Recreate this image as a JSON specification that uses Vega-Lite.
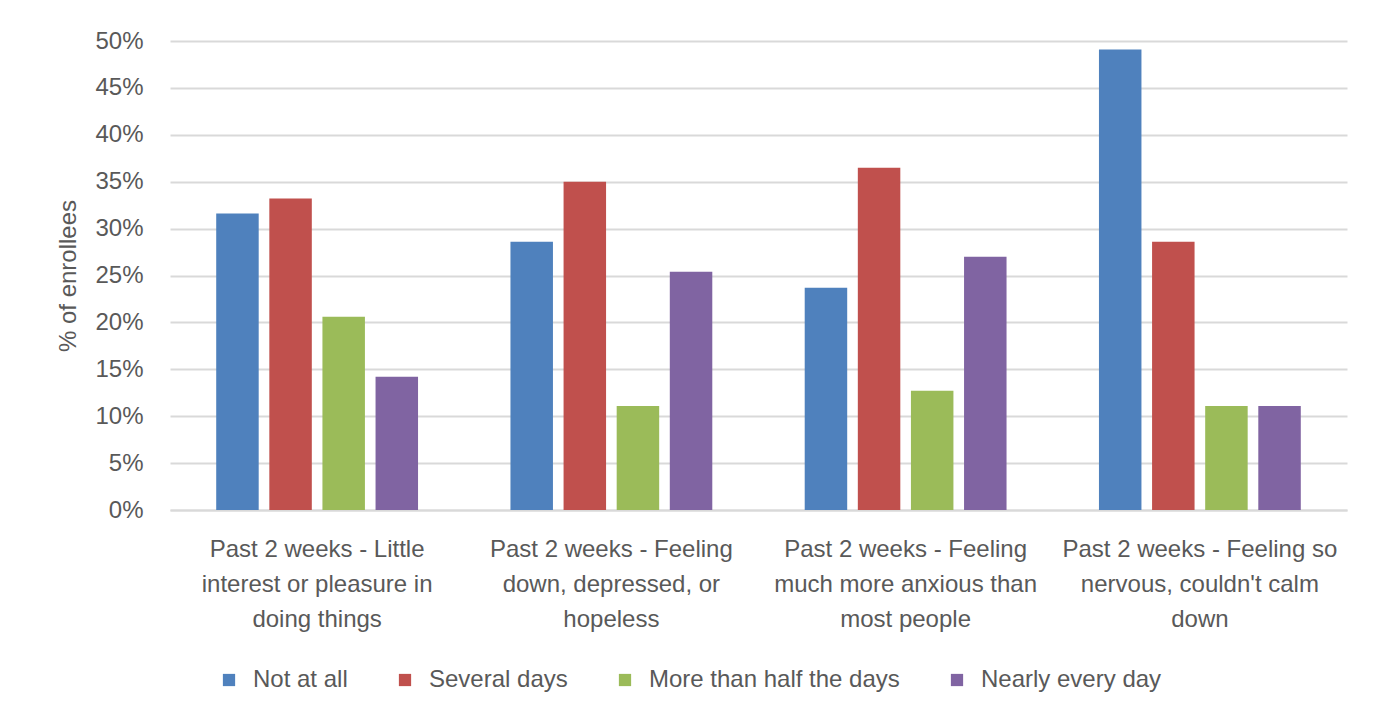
{
  "$schema": "https://vega.github.io/schema/vega-lite/v6.json",
  "autosize": "none",
  "width": 1177,
  "height": 469,
  "padding": {"left": 170, "top": 41, "right": 37, "bottom": 214},
  "background": "white",
  "data": {
    "values": [
      {"question": "Past 2 weeks - Little interest or pleasure in doing things", "response": "Not at all", "pct": 0.316},
      {"question": "Past 2 weeks - Little interest or pleasure in doing things", "response": "Several days", "pct": 0.332},
      {"question": "Past 2 weeks - Little interest or pleasure in doing things", "response": "More than half the days", "pct": 0.206},
      {"question": "Past 2 weeks - Little interest or pleasure in doing things", "response": "Nearly every day", "pct": 0.142},
      {"question": "Past 2 weeks - Feeling down, depressed, or hopeless", "response": "Not at all", "pct": 0.286},
      {"question": "Past 2 weeks - Feeling down, depressed, or hopeless", "response": "Several days", "pct": 0.350},
      {"question": "Past 2 weeks - Feeling down, depressed, or hopeless", "response": "More than half the days", "pct": 0.111},
      {"question": "Past 2 weeks - Feeling down, depressed, or hopeless", "response": "Nearly every day", "pct": 0.254},
      {"question": "Past 2 weeks - Feeling much more anxious than most people", "response": "Not at all", "pct": 0.237},
      {"question": "Past 2 weeks - Feeling much more anxious than most people", "response": "Several days", "pct": 0.365},
      {"question": "Past 2 weeks - Feeling much more anxious than most people", "response": "More than half the days", "pct": 0.127},
      {"question": "Past 2 weeks - Feeling much more anxious than most people", "response": "Nearly every day", "pct": 0.270},
      {"question": "Past 2 weeks - Feeling so nervous, couldn't calm down", "response": "Not at all", "pct": 0.491},
      {"question": "Past 2 weeks - Feeling so nervous, couldn't calm down", "response": "Several days", "pct": 0.286},
      {"question": "Past 2 weeks - Feeling so nervous, couldn't calm down", "response": "More than half the days", "pct": 0.111},
      {"question": "Past 2 weeks - Feeling so nervous, couldn't calm down", "response": "Nearly every day", "pct": 0.111}
    ]
  },
  "mark": {"type": "bar"},
  "encoding": {
    "x": {
      "field": "question",
      "type": "nominal",
      "sort": null,
      "scale": {"paddingInner": 0, "paddingOuter": 0},
      "axis": {
        "title": null,
        "labelAngle": 0,
        "ticks": false,
        "domain": true,
        "domainColor": "#d9d9d9",
        "domainWidth": 2,
        "labelPadding": 27,
        "labelBaseline": "top",
        "labelLineHeight": 35,
        "labelLimit": 400,
        "labelExpr": "datum.value == 'Past 2 weeks - Little interest or pleasure in doing things' ? ['Past 2 weeks - Little', 'interest or pleasure in', 'doing things'] : datum.value == 'Past 2 weeks - Feeling down, depressed, or hopeless' ? ['Past 2 weeks - Feeling', 'down, depressed, or', 'hopeless'] : datum.value == 'Past 2 weeks - Feeling much more anxious than most people' ? ['Past 2 weeks - Feeling', 'much more anxious than', 'most people'] : ['Past 2 weeks - Feeling so', 'nervous, couldn\\'t calm', 'down']"
      }
    },
    "xOffset": {
      "field": "response",
      "type": "nominal",
      "sort": ["Not at all", "Several days", "More than half the days", "Nearly every day"],
      "scale": {"paddingInner": 0.2, "paddingOuter": 0.87}
    },
    "y": {
      "field": "pct",
      "type": "quantitative",
      "scale": {"domain": [0, 0.5], "nice": false},
      "axis": {
        "title": "% of enrollees",
        "format": ".0%",
        "values": [0, 0.05, 0.1, 0.15, 0.2, 0.25, 0.3, 0.35, 0.4, 0.45, 0.5],
        "ticks": false,
        "domain": false,
        "labelPadding": 27,
        "titlePadding": 14,
        "grid": true,
        "gridColor": "#d9d9d9",
        "gridWidth": 2
      }
    },
    "color": {
      "field": "response",
      "type": "nominal",
      "sort": ["Not at all", "Several days", "More than half the days", "Nearly every day"],
      "scale": {
        "domain": ["Not at all", "Several days", "More than half the days", "Nearly every day"],
        "range": ["#4f81bd", "#c0504d", "#9bbb59", "#8064a2"]
      },
      "legend": {
        "title": null,
        "orient": "none",
        "direction": "horizontal",
        "legendX": 47,
        "legendY": 627,
        "symbolType": "square",
        "symbolSize": 150,
        "symbolStrokeWidth": 0,
        "labelOffset": 12,
        "columnPadding": 45,
        "labelFontSize": 24,
        "labelLimit": 400,
        "labelColor": "#595959",
        "labelFont": "Liberation Sans"
      }
    }
  },
  "config": {
    "view": {"stroke": null},
    "axis": {
      "labelFont": "Liberation Sans",
      "titleFont": "Liberation Sans",
      "labelFontSize": 24,
      "titleFontSize": 24,
      "labelColor": "#595959",
      "titleColor": "#595959",
      "titleFontWeight": "normal"
    }
  }
}
